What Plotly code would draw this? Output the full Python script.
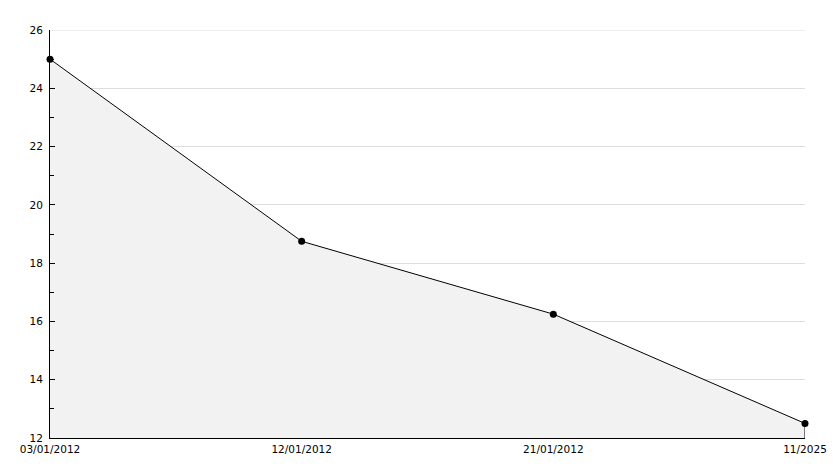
import plotly.graph_objects as go

categories = ["03/01/2012", "12/01/2012", "21/01/2012", "11/2025"]
values = [25, 18.75, 16.25, 12.5]
y_min, y_max = 12, 26
y_ticks = [12, 14, 16, 18, 20, 22, 24, 26]

xs = list(range(len(categories)))

fig = go.Figure()
fig.add_trace(go.Scatter(
    x=xs, y=values, mode="lines+markers",
    line=dict(color="black", width=1),
    marker=dict(color="black", size=7),
    fill="tozeroy", fillcolor="#f2f2f2",
    cliponaxis=False, hoverinfo="skip",
))
# right edge of filled area
fig.add_trace(go.Scatter(
    x=[xs[-1], xs[-1]], y=[values[-1], y_min], mode="lines",
    line=dict(color="black", width=1), hoverinfo="skip",
))
# top gridline (plotly hides grid at range edge)
fig.add_hline(y=y_max, line=dict(color="#dddddd", width=1), layer="below")

fig.update_layout(
    width=834, height=468,
    margin=dict(l=50, r=29, t=30, b=30, autoexpand=False),
    paper_bgcolor="white", plot_bgcolor="white",
    showlegend=False,
    font=dict(family="DejaVu Sans", size=10.5, color="black"),
)
fig.update_xaxes(
    range=[0, len(categories) - 1],
    tickmode="array", tickvals=xs, ticktext=categories,
    showgrid=False, zeroline=False, automargin=False,
    showline=True, linecolor="black", linewidth=1,
    ticks="", ticklabelstandoff=1,
)
fig.update_yaxes(
    range=[y_min, y_max],
    tickmode="array", tickvals=y_ticks,
    showgrid=True, gridcolor="#dddddd", gridwidth=1,
    zeroline=False, automargin=False,
    showline=True, linecolor="black", linewidth=1,
    ticks="inside", ticklen=5, tickcolor="black",
    minor=dict(ticks="inside", ticklen=4, dtick=1, tickcolor="black", showgrid=False),
    ticklabelstandoff=4,
)
fig.write_html("out.html", config={"displayModeBar": False},
               post_script="document.body.style.margin='0';")
